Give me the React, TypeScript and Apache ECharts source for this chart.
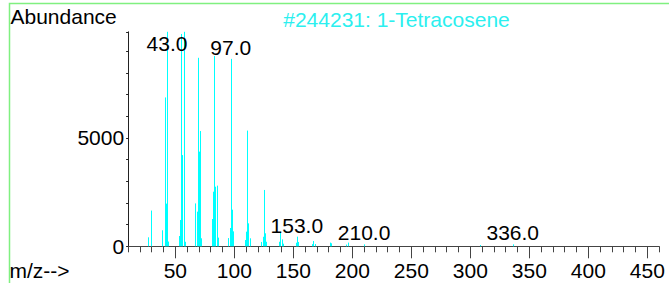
import React, { useEffect, useRef } from 'react';
import * as echarts from 'echarts';

const mzValues = [
  27, 29, 39, 41, 42, 43, 44, 53, 54, 55, 56, 57, 58,
  67, 68, 69, 70, 71, 72, 81, 82, 83, 84, 85, 86,
  95, 96, 97, 98, 99, 109, 110, 111, 112, 113,
  123, 124, 125, 126, 127, 138, 139, 140, 141,
  152, 153, 154, 166, 167, 168, 181, 182, 195, 196, 210, 308, 336,
];
const abundances = [
  415, 1650, 740, 6870, 1970, 9900, 220, 475, 1215, 9800, 4210, 9900, 210,
  1980, 1600, 8700, 4370, 5320, 370, 1260, 2520, 8780, 2750, 2800, 400,
  380, 845, 8650, 1690, 690, 290, 675, 5340, 1060, 370,
  200, 440, 2600, 600, 210, 210, 675, 320, 120,
  165, 445, 200, 100, 245, 105, 170, 140, 80, 170, 90, 60, 90,
];
const labelledMz = [43, 97, 153, 210, 336];
const xMajorTicks = [50, 100, 150, 200, 250, 300, 350, 400, 450];
const yLabelValues = [0, 5000];
const titleText = '#244231: 1-Tetracosene';
const yAxisTitle = 'Abundance';
const xAxisTitle = 'm/z-->';

const X_MIN = 10;
const X_MAX = 460;
const Y_MAX = 9900;

const FONT = '"Liberation Sans", Arial, Helvetica, sans-serif';
const PEAK_COLOR = '#00FFFF';
const AXIS_COLOR = '#444';
const FRAME_COLOR = '#80F080';

export default function App() {
  const ref = useRef<HTMLDivElement>(null);

  useEffect(() => {
    const chart = echarts.init(ref.current as HTMLDivElement, null, { renderer: 'svg' });
    const peaks = mzValues.map((m, i) => [m, abundances[i]]);
    const labels = labelledMz.map((m) => [m, abundances[mzValues.indexOf(m)]]);

    chart.setOption({
      animation: false,
      grid: {
        left: 128.1,
        right: 9.9,
        top: 31.8,
        bottom: 36.7,
        containLabel: false,
        outerBoundsMode: 'none',
      },
      xAxis: {
        type: 'value',
        min: X_MIN,
        max: X_MAX,
        interval: 10,
        axisLine: { lineStyle: { color: AXIS_COLOR, width: 1 } },
        axisTick: { length: 6, lineStyle: { color: AXIS_COLOR, width: 1 } },
        axisLabel: {
          formatter: (v: number) => (xMajorTicks.indexOf(v) >= 0 ? String(v) : ''),
          fontSize: 21,
          fontFamily: FONT,
          color: '#000',
          margin: 14,
        },
        splitLine: { show: false },
      },
      yAxis: {
        type: 'value',
        min: 0,
        max: Y_MAX,
        interval: 1000,
        axisLine: { show: true, lineStyle: { color: '#222', width: 1 } },
        axisTick: { show: true, length: 2, lineStyle: { color: '#222', width: 1 } },
        axisLabel: {
          formatter: (v: number) => (yLabelValues.indexOf(v) >= 0 ? String(v) : ''),
          fontSize: 21,
          fontFamily: FONT,
          color: '#000',
          margin: 4,
        },
        splitLine: { show: false },
      },
      series: [
        {
          type: 'custom',
          data: peaks,
          clip: false,
          renderItem: (params: any, api: any) => {
            const x = api.value(0);
            const y = api.value(1);
            const p0 = api.coord([x, 0]);
            const p1 = api.coord([x, y]);
            const px = Math.round(p0[0]) + 0.5;
            return {
              type: 'line',
              shape: { x1: px, y1: p0[1], x2: px, y2: p1[1] },
              style: { stroke: PEAK_COLOR, lineWidth: 1 },
            };
          },
        },
        {
          type: 'custom',
          data: xMajorTicks.map((v) => [v, 0]),
          clip: false,
          renderItem: (params: any, api: any) => {
            const p = api.coord([api.value(0), 0]);
            const px = Math.round(p[0]) + 0.5;
            return {
              type: 'line',
              shape: { x1: px, y1: p[1], x2: px, y2: p[1] + 12 },
              style: { stroke: AXIS_COLOR, lineWidth: 1 },
            };
          },
        },
        {
          type: 'custom',
          data: labels,
          clip: false,
          renderItem: (params: any, api: any) => {
            const m = api.value(0);
            const p = api.coord([m, api.value(1)]);
            const top = api.coord([m, Y_MAX])[1];
            const y = Math.max(p[1] - 11.5, top + 11.7);
            return {
              type: 'text',
              style: {
                text: m.toFixed(1),
                x: p[0],
                y,
                align: 'center',
                verticalAlign: 'middle',
                fontSize: 21,
                fontFamily: FONT,
                fill: '#000',
              },
            };
          },
        },
      ],
      graphic: [
        {
          type: 'polyline',
          shape: { points: [[9.5, 300], [9.5, 3.5], [700, 3.5]] },
          style: { stroke: FRAME_COLOR, lineWidth: 1.5, fill: 'none' },
          silent: true,
        },
        {
          type: 'text',
          style: {
            text: yAxisTitle,
            x: 10.5,
            y: 16.7,
            align: 'left',
            verticalAlign: 'middle',
            fontSize: 21,
            fontFamily: FONT,
            fill: '#000',
          },
        },
        {
          type: 'text',
          style: {
            text: titleText,
            x: 396.5,
            y: 19.7,
            align: 'center',
            verticalAlign: 'middle',
            fontSize: 21,
            fontFamily: FONT,
            fill: '#2CEFEF',
          },
        },
        {
          type: 'text',
          style: {
            text: xAxisTitle,
            x: 9.5,
            y: 270.7,
            align: 'left',
            verticalAlign: 'middle',
            fontSize: 21,
            fontFamily: FONT,
            fill: '#000',
          },
        },
      ],
    });

    return () => {
      chart.dispose();
    };
  }, []);

  return (
    <div
      ref={ref}
      style={{ position: 'absolute', left: 0, top: 0, width: 669, height: 283 }}
    />
  );
}
